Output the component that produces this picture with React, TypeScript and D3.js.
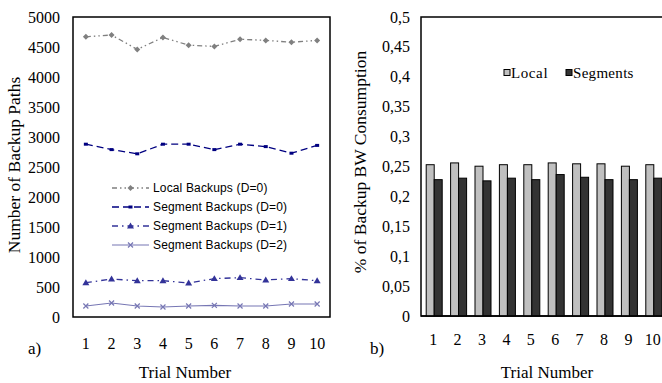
import React from "react";
import * as d3 from "d3";

const trials = ["1", "2", "3", "4", "5", "6", "7", "8", "9", "10"];
const localD0 = [4670, 4700, 4460, 4660, 4530, 4510, 4630, 4610, 4580, 4610];
const segD0 = [2880, 2790, 2720, 2880, 2880, 2790, 2880, 2840, 2730, 2860];
const segD1 = [572, 633, 605, 605, 567, 639, 656, 617, 639, 605];
const segD2 = [183, 233, 183, 167, 183, 194, 183, 183, 217, 217];
const leftTicks = [0, 500, 1000, 1500, 2000, 2500, 3000, 3500, 4000, 4500, 5000];

const bwLocal = [0.253, 0.256, 0.2505, 0.253, 0.253, 0.256, 0.2545, 0.2545, 0.2505, 0.253];
const bwSegments = [0.228, 0.2305, 0.226, 0.2305, 0.228, 0.2365, 0.232, 0.228, 0.228, 0.2305];
const rightTicks = [0, 0.05, 0.1, 0.15, 0.2, 0.25, 0.3, 0.35, 0.4, 0.45, 0.5];

const serif = "'Liberation Serif', 'Times New Roman', serif";
const sans = "'Liberation Sans', Arial, sans-serif";

type Series = {
  name: string;
  values: number[];
  color: string;
  dash: string;
  marker: "diamond" | "square" | "triangle" | "cross";
  width: number;
};

const series: Series[] = [
  { name: "Local Backups (D=0)", values: localD0, color: "#808080", dash: "5,3,1.5,3,1.5,3", marker: "diamond", width: 1.3 },
  { name: "Segment Backups (D=0)", values: segD0, color: "#000080", dash: "7,4", marker: "square", width: 1.3 },
  { name: "Segment Backups (D=1)", values: segD1, color: "#333399", dash: "6,4,1.5,4", marker: "triangle", width: 1.3 },
  { name: "Segment Backups (D=2)", values: segD2, color: "#7777B4", dash: "", marker: "cross", width: 1.2 },
];

function Marker({ type, x, y, color }: { type: string; x: number; y: number; color: string }) {
  if (type === "diamond") {
    const s = 3;
    return <path d={`M${x},${y - s}L${x + s},${y}L${x},${y + s}L${x - s},${y}Z`} fill={color} />;
  }
  if (type === "square") {
    return <rect x={x - 2} y={y - 1.5} width={4} height={3} fill={color} />;
  }
  if (type === "triangle") {
    const s = 3.5;
    return <path d={`M${x},${y - s}L${x + s},${y + s * 0.7}L${x - s},${y + s * 0.7}Z`} fill={color} />;
  }
  const s = 2.5;
  return (
    <path d={`M${x - s},${y - s}L${x + s},${y + s}M${x - s},${y + s}L${x + s},${y - s}`} stroke={color} strokeWidth={1.2} fill="none" />
  );
}

export default function App() {
  // Left chart
  const L = { left: 73, right: 330, top: 17, bottom: 317 };
  const xL = d3.scaleBand<string>().domain(trials).range([L.left, L.right]);
  const yL = d3.scaleLinear().domain([0, 5000]).range([L.bottom, L.top]);
  const line = d3
    .line<number>()
    .x((_, i) => (xL(trials[i]) as number) + xL.bandwidth() / 2)
    .y((v) => yL(v));

  // Right chart
  const R = { left: 421, right: 665, top: 17, bottom: 316 };
  const xR = d3.scaleBand<string>().domain(trials).range([R.left, R.right]);
  const yR = d3.scaleLinear().domain([0, 0.5]).range([R.bottom, R.top]);
  const inner = d3.scaleBand<string>().domain(["Local", "Segments"]).range([0, 16]);
  const groupOffset = (xR.bandwidth() - 16) / 2 + 1;

  const legendRows = [188, 207, 226, 245];

  return (
    <svg width={662} height={383} style={{ position: "absolute", left: 0, top: 0, background: "#fff" }}>
      {/* LEFT CHART */}
      <rect x={L.left} y={L.top} width={L.right - L.left} height={L.bottom - L.top} fill="none" stroke="#000" strokeWidth={1.5} />
      {leftTicks.map((t) => (
        <text key={t} x={60} y={yL(t)} textAnchor="end" dominantBaseline="central" fontFamily={serif} fontSize={16}>
          {t}
        </text>
      ))}
      {trials.map((t) => (
        <text key={t} x={(xL(t) as number) + xL.bandwidth() / 2} y={349} textAnchor="middle" fontFamily={serif} fontSize={16}>
          {t}
        </text>
      ))}
      {series.map((s) => (
        <g key={s.name}>
          <path d={line(s.values) || ""} fill="none" stroke={s.color} strokeWidth={s.width} strokeDasharray={s.dash} />
          {s.values.map((v, i) => (
            <Marker key={i} type={s.marker} x={(xL(trials[i]) as number) + xL.bandwidth() / 2} y={yL(v)} color={s.color} />
          ))}
        </g>
      ))}
      {series.map((s, i) => (
        <g key={s.name}>
          <line x1={112} x2={149} y1={legendRows[i]} y2={legendRows[i]} stroke={s.color} strokeWidth={s.width} strokeDasharray={s.dash} />
          <Marker type={s.marker} x={130.5} y={legendRows[i]} color={s.color} />
          <text x={153} y={legendRows[i]} dominantBaseline="central" fontFamily={sans} fontSize={12} letterSpacing={0.15}>
            {s.name}
          </text>
        </g>
      ))}
      <text transform="translate(20,165) rotate(-90)" textAnchor="middle" fontFamily={serif} fontSize={17.5}>
        Number of Backup Paths
      </text>
      <text x={185} y={378} textAnchor="middle" fontFamily={serif} fontSize={17}>
        Trial Number
      </text>
      <text x={28} y={354} fontFamily={serif} fontSize={17}>
        a)
      </text>

      {/* RIGHT CHART */}
      <rect x={R.left} y={R.top} width={R.right - R.left} height={R.bottom - R.top} fill="none" stroke="#000" strokeWidth={1.5} />
      {rightTicks.map((t) => (
        <text key={t} x={410} y={yR(t)} textAnchor="end" dominantBaseline="central" fontFamily={serif} fontSize={16}>
          {d3.format("")(+t.toFixed(2)).replace(".", ",")}
        </text>
      ))}
      {trials.map((t, i) => (
        <g key={t} transform={`translate(${(xR(t) as number) + groupOffset},0)`}>
          <rect x={inner("Local")} y={yR(bwLocal[i])} width={inner.bandwidth()} height={yR(0) - yR(bwLocal[i])} fill="#C0C0C0" stroke="#000" strokeWidth={1} />
          <rect x={inner("Segments")} y={yR(bwSegments[i])} width={inner.bandwidth()} height={yR(0) - yR(bwSegments[i])} fill="#333333" stroke="#000" strokeWidth={1} />
        </g>
      ))}
      <line x1={R.left} x2={R.right} y1={R.bottom} y2={R.bottom} stroke="#000" strokeWidth={1.5} />
      {trials.map((t) => (
        <text key={t} x={(xR(t) as number) + xR.bandwidth() / 2} y={345} textAnchor="middle" fontFamily={serif} fontSize={16}>
          {t}
        </text>
      ))}
      <rect x={504} y={69.5} width={6} height={6} fill="#C0C0C0" stroke="#000" strokeWidth={1} />
      <text x={511} y={72.7} dominantBaseline="central" fontFamily={serif} fontSize={15} letterSpacing={0.6}>
        Local
      </text>
      <rect x={566} y={69.5} width={6} height={6} fill="#333333" stroke="#000" strokeWidth={1} />
      <text x={573} y={72.7} dominantBaseline="central" fontFamily={serif} fontSize={15} letterSpacing={0.3}>
        Segments
      </text>
      <text transform="translate(366,162) rotate(-90)" textAnchor="middle" fontFamily={serif} fontSize={17.5}>
        % of Backup BW Consumption
      </text>
      <text x={547} y={378} textAnchor="middle" fontFamily={serif} fontSize={17}>
        Trial Number
      </text>
      <text x={370} y={354} fontFamily={serif} fontSize={17}>
        b)
      </text>
    </svg>
  );
}
